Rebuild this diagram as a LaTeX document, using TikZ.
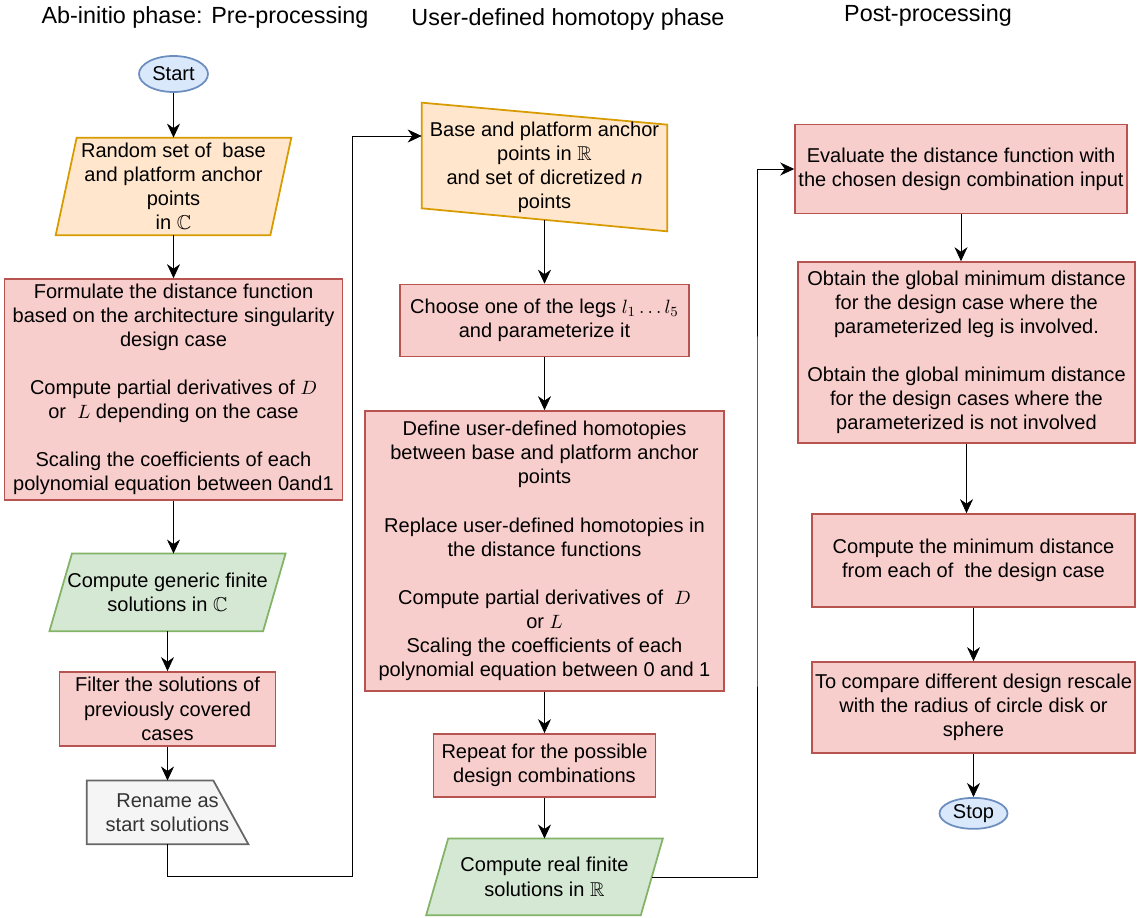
\documentclass[tikz,border=0pt]{standalone}
\usepackage{amsmath, amssymb}
\usepackage{fontspec}
\setmainfont{Liberation Sans}
\usepackage{tikz}
\usetikzlibrary{positioning, shapes.geometric, arrows.meta, backgrounds}
\definecolor{termfill}{HTML}{DAE8FC}
\definecolor{termline}{HTML}{6C8EBF}
\definecolor{infill}{HTML}{FFE6CC}
\definecolor{inline}{HTML}{D79B00}
\definecolor{procfill}{HTML}{F8CECC}
\definecolor{procline}{HTML}{B85450}
\definecolor{solfill}{HTML}{D5E8D4}
\definecolor{solline}{HTML}{82B366}
\definecolor{renfill}{HTML}{F5F5F5}
\definecolor{renline}{HTML}{666666}
\definecolor{rentext}{HTML}{333333}
\tikzset{
->, % makes the connectors directed
>={Stealth[length=2.8mm,width=2.6mm]}, % filled arrow heads
line width=1.2pt, % strokes of the connectors
x=0.02cm, y=-0.02cm, % one unit is one pixel of the sketch, y grows downwards
node distance=2cm, % centre to centre, changed per node below
every node/.style={font=\fontsize{11.4}{13.7}\selectfont, align=center, inner sep=1pt},
heading/.style={font=\fontsize{13.3}{16}\selectfont}, % phase titles
terminal/.style={ellipse, draw=termline, fill=termfill, line width=1pt}, % start and stop
process/.style={rectangle, draw=procline, fill=procfill, line width=0.9pt}, % red steps
slot/.style={rectangle}, % text of a slanted box, its outline is drawn behind it
inputshape/.style={-, draw=inline, fill=infill, line width=1pt}, % orange data
solshape/.style={-, draw=solline, fill=solfill, line width=1pt}, % green solutions
renameshape/.style={-, draw=renline, fill=renfill, line width=1pt},
}

\begin{document}
\begin{tikzpicture}
\useasboundingbox (0,0) rectangle (1140,918);
% titles
\node[heading] (t1) at (205,17) {Ab-initio phase: Pre-processing};
\node[heading] (t2) at (568,19) {User-defined homotopy phase};
\node[heading] (t3) at (928,15) {Post-processing};
% pre-processing
\node[terminal, minimum width=1.38cm, minimum height=0.72cm] (start) at (173.5,74) {Start};
\node[slot, below of=start, node distance=2.25cm, minimum width=4.7cm, minimum height=1.94cm] (rand) {Random set of\ \ base\\and platform anchor\\points\\in $\mathbb{C}$};
\node[process, below of=rand, node distance=4.06cm, minimum width=6.76cm, minimum height=4.42cm] (distfn) {Formulate the distance function\\based on the architecture singularity\\design case\\[0.48cm]Compute partial derivatives of $D$\\or\ \ $L$ depending on the case\\[0.48cm]Scaling the coefficients of each\\polynomial equation between 0and1};
\node[slot, below of=distfn, node distance=4.06cm, xshift=-0.12cm, minimum width=4.71cm, minimum height=1.54cm] (generic) {Compute generic finite\\solutions in $\mathbb{C}$};
\node[process, below of=generic, node distance=2.33cm, minimum width=4.32cm, minimum height=1.48cm] (filter) {Filter the solutions of\\previously covered\\cases};
\node[slot, below of=filter, node distance=2.07cm, minimum width=3.22cm, minimum height=1.26cm, text=rentext] (rename) {Rename as\\start solutions};
% homotopy phase
\node[slot, minimum width=4.9cm, minimum height=2.56cm] (anchors) at (544.5,167) {Base and platform anchor\\points in $\mathbb{R}$\\and set of dicretized \textit{n}\\points};
\node[process, below of=anchors, node distance=3.07cm, minimum width=5.78cm, minimum height=1.44cm] (pick) {Choose one of the legs $l_1\ldots l_5$\\and parameterize it};
\node[process, below of=pick, node distance=4.61cm, minimum width=7.18cm, minimum height=5.6cm] (homotopy) {Define user-defined homotopies\\between base and platform anchor\\points\\[0.48cm]Replace user-defined homotopies in\\the distance functions\\[0.48cm]Compute partial derivatives of\ \ $D$\\or $L$\\Scaling the coefficients of each\\polynomial equation between 0 and 1};
\node[process, below of=homotopy, node distance=4.29cm, minimum width=4.44cm, minimum height=1.26cm] (rep) {Repeat for the possible\\design combinations};
\node[slot, below of=rep, node distance=2.23cm, minimum width=4.72cm, minimum height=1.52cm] (realsol) {Compute real finite\\solutions in $\mathbb{R}$};
% post-processing
\node[process, minimum width=6.64cm, minimum height=1.78cm] (eval) at (961,169) {Evaluate the distance function with\\the chosen design combination input};
\node[process, below of=eval, node distance=3.67cm, xshift=0.11cm, minimum width=6.74cm, minimum height=3.62cm] (globmin) {Obtain the global minimum distance\\for the design case where the\\parameterized leg is involved.\\[0.48cm]Obtain the global minimum distance\\for the design cases where the\\parameterized is not involved};
\node[process, below of=globmin, node distance=4.16cm, xshift=0.14cm, minimum width=6.46cm, minimum height=1.86cm] (mindist) {Compute the minimum distance\\from each of\ \ the design case};
\node[process, below of=mindist, node distance=2.94cm, minimum width=6.46cm, minimum height=1.82cm] (rescale) {To compare different design rescale\\with the radius of circle disk or\\sphere};
\node[terminal, below of=rescale, node distance=2.12cm, minimum width=1.36cm, minimum height=0.62cm] (stop) {Stop};
% outlines of the slanted boxes
\begin{scope}[on background layer]
\filldraw[inputshape] ([xshift=0.42cm]rand.north west) -- (rand.north east) -- ([xshift=-0.42cm]rand.south east) -- (rand.south west) -- cycle;
\filldraw[solshape] ([xshift=0.45cm]generic.north west) -- (generic.north east) -- ([xshift=-0.45cm]generic.south east) -- (generic.south west) -- cycle;
\filldraw[renameshape] (rename.north west) -- ([xshift=-0.7cm]rename.north east) -- (rename.south east) -- (rename.south west) -- cycle;
\filldraw[inputshape] (anchors.north west) -- ([yshift=-0.44cm]anchors.north east) -- (anchors.south east) -- ([yshift=0.46cm]anchors.south west) -- cycle;
\filldraw[solshape] ([xshift=0.44cm]realsol.north west) -- (realsol.north east) -- ([xshift=-0.44cm]realsol.south east) -- (realsol.south west) -- cycle;
\end{scope}
% bends of the long connectors
\coordinate (j1) at (352,876);
\coordinate (j2) at (757,500);
% connectors
\draw (start) -- (rand);
\draw (rand) -- (distfn);
\draw (distfn) -- (distfn |- generic.north);
\draw (generic) -- (filter);
\draw (filter) -- (rename);
\draw (rename.south) |- (j1) |- ([yshift=0.62cm]anchors.west);
\draw ([yshift=0.23cm]anchors.south) -- (anchors.south |- pick.north);
\draw (pick) -- (homotopy);
\draw (homotopy) -- (rep);
\draw (rep) -- (realsol);
\draw ([xshift=-0.22cm]realsol.east) -| (j2) |- (eval.west);
\draw (eval) -- (eval |- globmin.north);
\draw (globmin) -- (globmin |- mindist.north);
\draw (mindist) -- (rescale);
\draw (rescale) -- (stop);
\end{tikzpicture}
\end{document}
